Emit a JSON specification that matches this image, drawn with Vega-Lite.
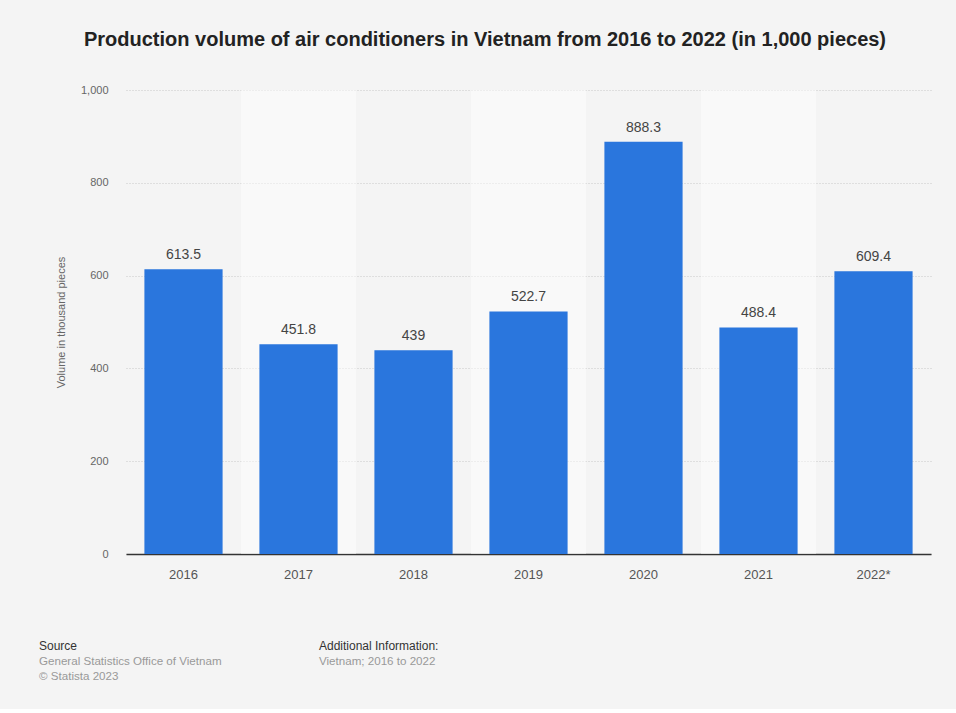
{
  "$schema": "https://vega.github.io/schema/vega-lite/v6.json",
  "background": "#f4f4f4",
  "padding": {"left": 39, "top": 30, "right": 26, "bottom": 10},
  "config": {
    "font": "Liberation Sans",
    "view": {"stroke": null},
    "concat": {"spacing": 58}
  },
  "title": {
    "text": "Production volume of air conditioners in Vietnam from 2016 to 2022 (in 1,000 pieces)",
    "fontSize": 20,
    "fontWeight": "bold",
    "color": "#222222",
    "anchor": "middle",
    "offset": 34
  },
  "datasets": {
    "prod": [
      {"year": "2016", "volume": 613.5},
      {"year": "2017", "volume": 451.8},
      {"year": "2018", "volume": 439},
      {"year": "2019", "volume": 522.7},
      {"year": "2020", "volume": 888.3},
      {"year": "2021", "volume": 488.4},
      {"year": "2022*", "volume": 609.4}
    ],
    "footer": [{"k": 1}]
  },
  "vconcat": [
    {
      "width": 805,
      "height": 464,
      "data": {"name": "prod"},
      "resolve": {"scale": {"x": "independent"}},
      "layer": [
        {
          "transform": [{"filter": {"field": "year", "oneOf": ["2017", "2019", "2021"]}}],
          "mark": {"type": "bar", "color": "#ffffff", "opacity": 0.45},
          "encoding": {
            "x": {"field": "year", "type": "nominal", "sort": null, "axis": null,
                  "scale": {"domain": ["2016", "2017", "2018", "2019", "2020", "2021", "2022*"], "paddingInner": 0, "paddingOuter": 0}},
            "y": {"datum": 1000, "type": "quantitative"}
          }
        },
        {
          "encoding": {
            "x": {"field": "year", "type": "nominal", "sort": null,
                  "scale": {"paddingInner": 0.32, "paddingOuter": 0.16},
                  "axis": {"title": null, "labelAngle": 0, "labelFontSize": 13, "labelColor": "#555555",
                           "labelPadding": 14, "ticks": false, "domainColor": "#333333", "domainWidth": 1.5}},
            "y": {"field": "volume", "type": "quantitative",
                  "scale": {"domain": [0, 1000]},
                  "axis": {"title": "Volume in thousand pieces", "titleFontSize": 11, "titleFontWeight": "normal",
                           "titleColor": "#666666", "titlePadding": 14, "values": [0, 200, 400, 600, 800, 1000],
                           "format": ",d", "labelFontSize": 11, "labelColor": "#666666", "labelPadding": 18,
                           "ticks": false, "domain": false, "grid": true, "gridColor": "#c8c8c8", "gridDash": [1, 2]}}
          },
          "layer": [
            {"mark": {"type": "bar", "color": "#2a76dd"}},
            {"mark": {"type": "text", "baseline": "bottom", "dy": -7, "fontSize": 14, "color": "#444444"},
             "encoding": {"text": {"field": "volume", "type": "quantitative"}}}
          ]
        }
      ]
    },
    {
      "hconcat": [
        {
          "width": 173, "height": 1,
          "data": {"name": "footer"},
          "title": {"text": "Source", "subtitle": ["General Statistics Office of Vietnam", "© Statista 2023"],
                    "anchor": "start", "dx": -87, "fontSize": 12, "fontWeight": "normal", "color": "#333333",
                    "subtitleFontSize": 11.6, "subtitleColor": "#999999", "subtitlePadding": 3, "subtitleLineHeight": 15},
          "mark": {"type": "text"},
          "encoding": {"text": {"value": ""}}
        },
        {
          "width": 260, "height": 1,
          "data": {"name": "footer"},
          "title": {"text": "Additional Information:", "subtitle": ["Vietnam; 2016 to 2022", " "],
                    "anchor": "start", "dx": -87, "fontSize": 12, "fontWeight": "normal", "color": "#333333",
                    "subtitleFontSize": 11.6, "subtitleColor": "#999999", "subtitlePadding": 3, "subtitleLineHeight": 15},
          "mark": {"type": "text"},
          "encoding": {"text": {"value": ""}}
        }
      ],
      "spacing": 20
    }
  ]
}
